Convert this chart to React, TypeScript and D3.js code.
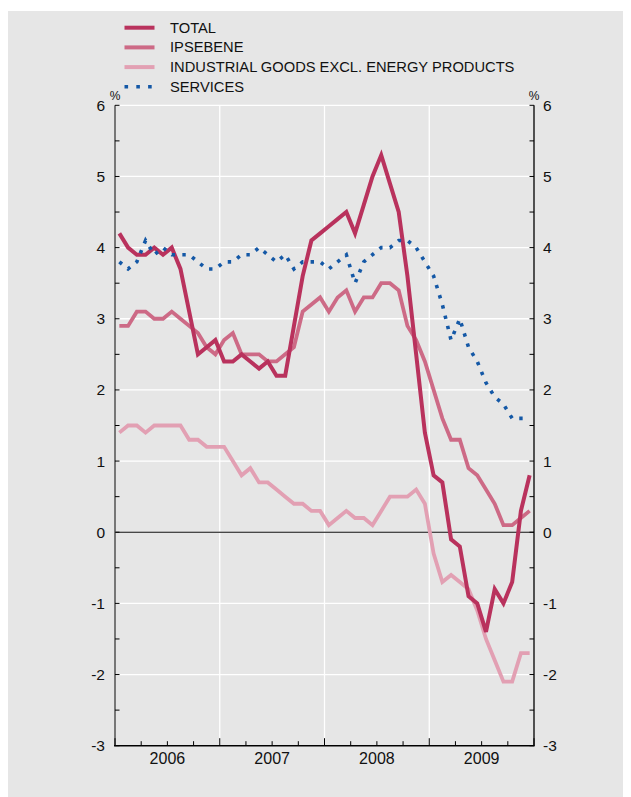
import React from "react";
import * as d3 from "d3";

const years = ["2006", "2007", "2008", "2009"];
const yTicks = [-3, -2, -1, 0, 1, 2, 3, 4, 5, 6];

const total = [
  4.2, 4.0, 3.9, 3.9, 4.0, 3.9, 4.0, 3.7, 3.1, 2.5, 2.6, 2.7,
  2.4, 2.4, 2.5, 2.4, 2.3, 2.4, 2.2, 2.2, 2.9, 3.6, 4.1, 4.2,
  4.3, 4.4, 4.5, 4.2, 4.6, 5.0, 5.3, 4.9, 4.5, 3.6, 2.5, 1.4,
  0.8, 0.7, -0.1, -0.2, -0.9, -1.0, -1.4, -0.8, -1.0, -0.7, 0.3, 0.8,
];
const ipsebene = [
  2.9, 2.9, 3.1, 3.1, 3.0, 3.0, 3.1, 3.0, 2.9, 2.8, 2.6, 2.5,
  2.7, 2.8, 2.5, 2.5, 2.5, 2.4, 2.4, 2.5, 2.6, 3.1, 3.2, 3.3,
  3.1, 3.3, 3.4, 3.1, 3.3, 3.3, 3.5, 3.5, 3.4, 2.9, 2.7, 2.4,
  2.0, 1.6, 1.3, 1.3, 0.9, 0.8, 0.6, 0.4, 0.1, 0.1, 0.2, 0.3,
];
const industrial = [
  1.4, 1.5, 1.5, 1.4, 1.5, 1.5, 1.5, 1.5, 1.3, 1.3, 1.2, 1.2,
  1.2, 1.0, 0.8, 0.9, 0.7, 0.7, 0.6, 0.5, 0.4, 0.4, 0.3, 0.3,
  0.1, 0.2, 0.3, 0.2, 0.2, 0.1, 0.3, 0.5, 0.5, 0.5, 0.6, 0.4,
  -0.3, -0.7, -0.6, -0.7, -0.8, -1.1, -1.5, -1.8, -2.1, -2.1, -1.7, -1.7,
];
const services = [
  3.8, 3.7, 3.8, 4.1, 3.9, 4.0, 3.9, 3.9, 3.9, 3.8, 3.7, 3.7,
  3.8, 3.8, 3.9, 3.9, 4.0, 3.9, 3.8, 3.9, 3.7, 3.8, 3.8, 3.8,
  3.7, 3.8, 3.9, 3.5, 3.8, 3.9, 4.0, 4.0, 4.1, 4.1, 4.0, 3.8,
  3.6, 3.2, 2.7, 3.0, 2.6, 2.4, 2.1, 1.9, 1.8, 1.6, 1.6, 1.6,
];

const seriesNames = [
  "TOTAL",
  "IPSEBENE",
  "INDUSTRIAL GOODS EXCL. ENERGY PRODUCTS",
  "SERVICES",
];

const COLORS = {
  total: "#b9325d",
  ipsebene: "#cd6a86",
  industrial: "#e2a0b3",
  services: "#1458a6",
  bg: "#e6e6e6",
};

const FONT = "'Liberation Sans', Arial, sans-serif";

export default function App() {
  const L = 115, R = 534, T = 105.3, B = 745.7;
  const x = d3.scaleLinear().domain([0, 48]).range([L, R]);
  const y = d3.scaleLinear().domain([-3, 6]).range([B, T]);
  const line = d3
    .line<number>()
    .x((_, i) => x(i + 0.5))
    .y((d) => y(d))
    .curve(d3.curveLinear);

  const halfTicks = d3.range(-3, 6.01, 0.5);
  const quarterTicks = d3.range(0, 49, 3);

  const series = [
    { data: industrial, color: COLORS.industrial, w: 3.8, dash: undefined },
    { data: ipsebene, color: COLORS.ipsebene, w: 3.8, dash: undefined },
    { data: total, color: COLORS.total, w: 4, dash: undefined },
    { data: services, color: COLORS.services, w: 3.6, dash: "3.4 7.2" },
  ];

  const legend = [
    { name: seriesNames[0], color: COLORS.total, dash: undefined },
    { name: seriesNames[1], color: COLORS.ipsebene, dash: undefined },
    { name: seriesNames[2], color: COLORS.industrial, dash: undefined },
    { name: seriesNames[3], color: COLORS.services, dash: "3.6 8.2" },
  ];

  return (
    <svg width={623} height={789} style={{ display: "block" }}>
      <g transform="translate(-8,-8)">
        <rect x={8} y={11} width={640} height={800} fill={COLORS.bg} />
        {legend.map((l, i) => {
          const ly = 27.7 + i * 19.7;
          return (
            <g key={l.name}>
              <line
                x1={124.5}
                x2={154.5}
                y1={ly}
                y2={ly}
                stroke={l.color}
                strokeWidth={l.dash ? 3.6 : 4}
                strokeDasharray={l.dash}
              />
              <text
                x={170}
                y={ly + 5}
                fontFamily={FONT}
                fontSize={14.7}
                fill="#111"
              >
                {l.name}
              </text>
            </g>
          );
        })}
        {yTicks.map((t) => (
          <line
            key={"g" + t}
            x1={L}
            x2={R}
            y1={y(t)}
            y2={y(t)}
            stroke="#fff"
            strokeWidth={1.3}
          />
        ))}
        {[12, 24, 36].map((m) => (
          <line
            key={"v" + m}
            x1={x(m)}
            x2={x(m)}
            y1={T}
            y2={B}
            stroke="#fff"
            strokeWidth={1.3}
          />
        ))}
        <line x1={L} x2={R} y1={y(0)} y2={y(0)} stroke="#000" strokeWidth={1} />
        {series.map((s, i) => (
          <path
            key={i}
            d={line(s.data) || ""}
            fill="none"
            stroke={s.color}
            strokeWidth={s.w}
            strokeDasharray={s.dash}
            strokeLinejoin="miter"
          />
        ))}
        <line x1={L} x2={L} y1={T} y2={B} stroke="#777" strokeWidth={2} />
        {halfTicks.map((t) => (
          <line
            key={"lt" + t}
            x1={L}
            x2={L + 4.5}
            y1={y(t)}
            y2={y(t)}
            stroke="#000"
            strokeWidth={1}
          />
        ))}
        <line x1={R} x2={R} y1={T} y2={B} stroke="#000" strokeWidth={1.3} />
        {halfTicks.map((t) => (
          <line
            key={"rt" + t}
            x1={R - 4.5}
            x2={R}
            y1={y(t)}
            y2={y(t)}
            stroke="#000"
            strokeWidth={1}
          />
        ))}
        <line x1={L - 1} x2={R + 0.6} y1={B} y2={B} stroke="#000" strokeWidth={1.5} />
        {quarterTicks.map((m) => (
          <line
            key={"xt" + m}
            x1={x(m)}
            x2={x(m)}
            y1={B}
            y2={B - (m % 12 === 0 ? 7.5 : 4.5)}
            stroke="#000"
            strokeWidth={1}
          />
        ))}
        {yTicks.map((t) => (
          <text
            key={"yl" + t}
            x={105}
            y={y(t) + 5.5}
            textAnchor="end"
            fontFamily={FONT}
            fontSize={15.5}
            fill="#111"
          >
            {t}
          </text>
        ))}
        {yTicks.map((t) => (
          <text
            key={"yr" + t}
            x={543}
            y={y(t) + 5.5}
            textAnchor="start"
            fontFamily={FONT}
            fontSize={15.5}
            fill="#111"
          >
            {t}
          </text>
        ))}
        <text x={L} y={100} textAnchor="middle" fontFamily={FONT} fontSize={12} fill="#111">
          %
        </text>
        <text x={R} y={100} textAnchor="middle" fontFamily={FONT} fontSize={12} fill="#111">
          %
        </text>
        {years.map((yr, i) => (
          <text
            key={yr}
            x={x(i * 12 + 6)}
            y={764}
            textAnchor="middle"
            fontFamily={FONT}
            fontSize={16}
            fill="#111"
          >
            {yr}
          </text>
        ))}
      </g>
    </svg>
  );
}
